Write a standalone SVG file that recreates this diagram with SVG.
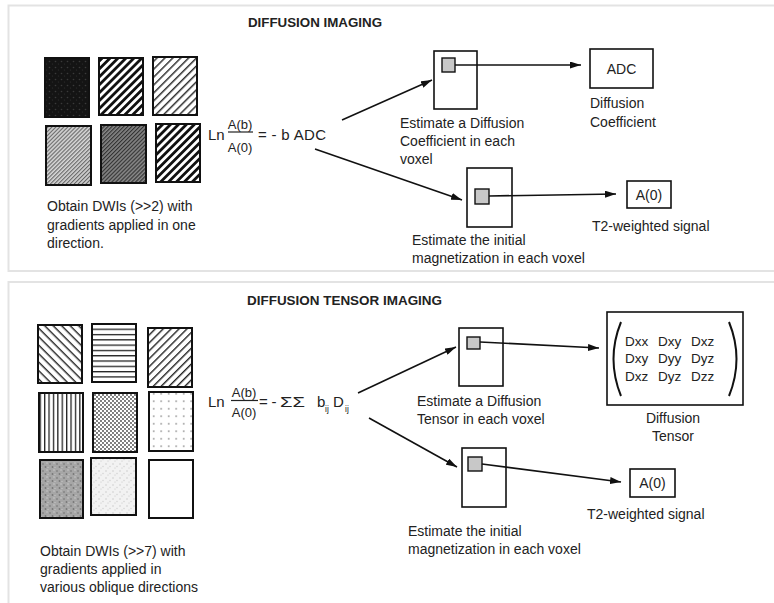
<svg xmlns="http://www.w3.org/2000/svg" width="774" height="603" viewBox="0 0 774 603">
<style>
  text { font-family: "Liberation Sans", Arial, sans-serif; fill: #222; }
  .lbl { font-size: 14px; }
  .eq { font-size: 15px; }
  .frac { font-size: 13px; }
  .ttl { font-size: 13.5px; font-weight: bold; }
  .mx { font-size: 13.5px; }
  .sub { font-size: 8.5px; }
  .panel { fill: #fff; stroke: #e3e3e3; stroke-width: 2; }
  .tile { stroke: #111; stroke-width: 2; }
  .box { fill: #fff; stroke: #111; stroke-width: 1.6; }
  .vox { fill: #c8c8c8; stroke: #111; stroke-width: 1.4; }
  .conn { stroke: #111; stroke-width: 1.6; fill: none; }
  .paren { stroke: #111; stroke-width: 2; fill: none; }
</style>
<defs>
  <marker id="ah" markerUnits="userSpaceOnUse" markerWidth="11" markerHeight="7" refX="11" refY="3.5" orient="auto">
    <path d="M0,0 L11,3.5 L0,7 z" fill="#111"/>
  </marker>
  <pattern id="pDark" patternUnits="userSpaceOnUse" width="6" height="6">
    <rect width="6" height="6" fill="#141414"/>
    <circle cx="1.5" cy="1.5" r="0.8" fill="#3a3a3a"/>
    <circle cx="4.5" cy="4" r="0.6" fill="#2e2e2e"/>
  </pattern>
  <pattern id="pThick" patternUnits="userSpaceOnUse" width="8" height="5.6" patternTransform="rotate(-45)">
    <rect width="8" height="5.6" fill="#fff"/>
    <rect width="8" height="2.8" fill="#111"/>
  </pattern>
  <pattern id="pThin" patternUnits="userSpaceOnUse" width="8" height="5.6" patternTransform="rotate(-45)">
    <rect width="8" height="5.6" fill="#fff"/>
    <rect width="8" height="1.5" fill="#333"/>
  </pattern>
  <pattern id="pFineLight" patternUnits="userSpaceOnUse" width="6" height="2.8" patternTransform="rotate(-45)">
    <rect width="6" height="2.8" fill="#d4d4d4"/>
    <rect width="6" height="1.1" fill="#666"/>
  </pattern>
  <pattern id="pFineDark" patternUnits="userSpaceOnUse" width="6" height="2.8" patternTransform="rotate(-45)">
    <rect width="6" height="2.8" fill="#8a8a8a"/>
    <rect width="6" height="1.2" fill="#333"/>
  </pattern>
  <pattern id="qBack" patternUnits="userSpaceOnUse" width="8" height="6" patternTransform="rotate(45)">
    <rect width="8" height="6" fill="#fff"/>
    <rect width="8" height="1.4" fill="#222"/>
  </pattern>
  <pattern id="qHoriz" patternUnits="userSpaceOnUse" width="8" height="5.3">
    <rect width="8" height="5.3" fill="#fff"/>
    <rect width="8" height="1.3" fill="#222"/>
  </pattern>
  <pattern id="qFwd" patternUnits="userSpaceOnUse" width="8" height="5.6" patternTransform="rotate(-45)">
    <rect width="8" height="5.6" fill="#fff"/>
    <rect width="8" height="1.4" fill="#222"/>
  </pattern>
  <pattern id="qVert" patternUnits="userSpaceOnUse" width="4.4" height="8">
    <rect width="4.4" height="8" fill="#fff"/>
    <rect width="1.3" height="8" fill="#222"/>
  </pattern>
  <pattern id="qDots" patternUnits="userSpaceOnUse" width="4" height="4">
    <rect width="4" height="4" fill="#fff"/>
    <circle cx="1" cy="1" r="0.9" fill="#444"/>
    <circle cx="3" cy="3" r="0.9" fill="#444"/>
  </pattern>
  <pattern id="qSparse" patternUnits="userSpaceOnUse" width="7.5" height="7.5">
    <rect width="7.5" height="7.5" fill="#fff"/>
    <circle cx="3.7" cy="3.7" r="0.9" fill="#999"/>
  </pattern>
  <pattern id="qSpeckDark" patternUnits="userSpaceOnUse" width="7" height="7">
    <rect width="7" height="7" fill="#a6a6a6"/>
    <circle cx="1" cy="2" r="0.8" fill="#6e6e6e"/>
    <circle cx="5" cy="1" r="0.7" fill="#d0d0d0"/>
    <circle cx="3.5" cy="5" r="0.9" fill="#777"/>
    <circle cx="6" cy="5.5" r="0.6" fill="#ccc"/>
  </pattern>
  <pattern id="qSpeckLight" patternUnits="userSpaceOnUse" width="7" height="7">
    <rect width="7" height="7" fill="#f2f2f2"/>
    <circle cx="1" cy="2" r="0.7" fill="#c4c4c4"/>
    <circle cx="5" cy="4.5" r="0.7" fill="#cfcfcf"/>
    <circle cx="3" cy="6" r="0.5" fill="#bbb"/>
  </pattern>
</defs>

<rect width="774" height="603" fill="#fff"/>

<!-- Panels -->
<g id="panel-top">
  <rect class="panel" x="8.5" y="5.5" width="780" height="265.5"/>
  <text class="ttl" x="248" y="27" textLength="134" lengthAdjust="spacingAndGlyphs">DIFFUSION IMAGING</text>
</g>
<g id="panel-bottom">
  <rect class="panel" x="8.5" y="282" width="780" height="340"/>
  <text class="ttl" x="247" y="305" textLength="195" lengthAdjust="spacingAndGlyphs">DIFFUSION TENSOR IMAGING</text>
</g>

<!-- ===== TOP: DIFFUSION IMAGING ===== -->
<g id="dwi-set-top">
  <rect class="tile" x="45" y="58" width="44" height="59" fill="url(#pDark)"/>
  <rect class="tile" x="99" y="58" width="44" height="57" fill="url(#pThick)"/>
  <rect class="tile" x="153" y="57" width="44" height="58" fill="url(#pThin)"/>
  <rect class="tile" x="46" y="126" width="45" height="59" fill="url(#pFineLight)"/>
  <rect class="tile" x="101" y="125" width="45" height="58" fill="url(#pFineDark)"/>
  <rect class="tile" x="156" y="124" width="44" height="58" fill="url(#pThick)"/>
  <text class="lbl" x="47" y="211">Obtain DWIs (&gt;&gt;2) with</text>
  <text class="lbl" x="47" y="229.5">gradients applied in one</text>
  <text class="lbl" x="47" y="248">direction.</text>
</g>

<g id="equation-top">
  <text class="eq" x="208" y="140">Ln</text>
  <text class="frac" x="240" y="129" text-anchor="middle">A(b)</text>
  <line x1="228" y1="132" x2="253" y2="132" stroke="#222" stroke-width="1.2"/>
  <text class="frac" x="240" y="152" text-anchor="middle">A(0)</text>
  <text class="eq" x="258" y="140" textLength="68" lengthAdjust="spacing">= - b ADC</text>
</g>

<g id="voxel-adc-top">
  <rect class="box" x="434" y="51" width="43" height="58"/>
  <rect class="vox" x="442" y="58" width="13" height="14"/>
  <text class="lbl" x="400" y="128">Estimate a Diffusion</text>
  <text class="lbl" x="400" y="146">Coefficient in each</text>
  <text class="lbl" x="400" y="164">voxel</text>
</g>

<g id="voxel-a0-top">
  <rect class="box" x="467" y="168" width="45" height="59"/>
  <rect class="vox" x="475" y="189" width="14" height="15"/>
  <text class="lbl" x="412" y="245">Estimate the initial</text>
  <text class="lbl" x="412" y="263">magnetization in each voxel</text>
</g>

<g id="adc-out">
  <rect class="box" x="590" y="49" width="63" height="39"/>
  <text class="lbl" x="621.5" y="74" text-anchor="middle">ADC</text>
  <text class="lbl" x="590" y="108">Diffusion</text>
  <text class="lbl" x="590" y="127">Coefficient</text>
</g>

<g id="a0-out-top">
  <rect class="box" x="627" y="181" width="44" height="27"/>
  <text class="lbl" x="649" y="199.5" text-anchor="middle">A(0)</text>
  <text class="lbl" x="592" y="231">T2-weighted signal</text>
</g>

<!-- ===== BOTTOM: DIFFUSION TENSOR IMAGING ===== -->
<g id="dwi-set-bottom">
  <rect class="tile" x="38" y="325" width="44" height="58" fill="url(#qBack)"/>
  <rect class="tile" x="92" y="324" width="44" height="58" fill="url(#qHoriz)"/>
  <rect class="tile" x="148" y="328" width="44" height="59" fill="url(#qFwd)"/>
  <rect class="tile" x="39" y="393" width="44" height="59" fill="url(#qVert)"/>
  <rect class="tile" x="93" y="393" width="44" height="59" fill="url(#qDots)"/>
  <rect class="tile" x="149" y="392" width="44" height="59" fill="url(#qSparse)"/>
  <rect class="tile" x="40" y="460" width="43" height="58" fill="url(#qSpeckDark)"/>
  <rect class="tile" x="91" y="458" width="45" height="57" fill="url(#qSpeckLight)"/>
  <rect class="tile" x="149" y="460" width="44" height="58" fill="#fff"/>
  <text class="lbl" x="40" y="556">Obtain DWIs (&gt;&gt;7) with</text>
  <text class="lbl" x="40" y="574">gradients applied in</text>
  <text class="lbl" x="40" y="592">various oblique directions</text>
</g>

<g id="equation-bottom">
  <text class="eq" x="208" y="407">Ln</text>
  <text class="frac" x="244" y="397" text-anchor="middle">A(b)</text>
  <line x1="231" y1="400.5" x2="258" y2="400.5" stroke="#222" stroke-width="1.2"/>
  <text class="frac" x="244" y="417" text-anchor="middle">A(0)</text>
  <text class="eq" x="259" y="407">=</text>
  <text class="eq" x="271.5" y="407">-</text>
  <text class="eq" x="280" y="407" textLength="25" lengthAdjust="spacingAndGlyphs">ΣΣ</text>
  <text class="eq" x="317" y="407">b</text>
  <text class="sub" x="325" y="412">ij</text>
  <text class="eq" x="333" y="407">D</text>
  <text class="sub" x="345" y="412">ij</text>
</g>

<g id="voxel-tensor-bottom">
  <rect class="box" x="459" y="328" width="44" height="58"/>
  <rect class="vox" x="467" y="337" width="13" height="12"/>
  <text class="lbl" x="417" y="406">Estimate a Diffusion</text>
  <text class="lbl" x="417" y="424">Tensor in each voxel</text>
</g>

<g id="voxel-a0-bottom">
  <rect class="box" x="462" y="448" width="44" height="59"/>
  <rect class="vox" x="468" y="457" width="14" height="14"/>
  <text class="lbl" x="408" y="536">Estimate the initial</text>
  <text class="lbl" x="408" y="554">magnetization in each voxel</text>
</g>

<g id="tensor-out">
  <rect class="box" x="607" y="312" width="136" height="93"/>
  <path class="paren" d="M621,322 Q606,359 621,396"/>
  <path class="paren" d="M729,322 Q744,359 729,396"/>
  <text class="mx" x="625" y="346">Dxx</text>
  <text class="mx" x="658" y="346">Dxy</text>
  <text class="mx" x="691" y="346">Dxz</text>
  <text class="mx" x="625" y="363">Dxy</text>
  <text class="mx" x="658" y="363">Dyy</text>
  <text class="mx" x="691" y="363">Dyz</text>
  <text class="mx" x="625" y="381">Dxz</text>
  <text class="mx" x="658" y="381">Dyz</text>
  <text class="mx" x="691" y="381">Dzz</text>
  <text class="lbl" x="673" y="423" text-anchor="middle">Diffusion</text>
  <text class="lbl" x="673" y="441" text-anchor="middle">Tensor</text>
</g>

<g id="a0-out-bottom">
  <rect class="box" x="630" y="469" width="45" height="28"/>
  <text class="lbl" x="652.5" y="488" text-anchor="middle">A(0)</text>
  <text class="lbl" x="587" y="519">T2-weighted signal</text>
</g>

<!-- Connectors -->
<g id="connectors">
  <line class="conn" x1="342" y1="120" x2="432" y2="80" marker-end="url(#ah)"/>
  <line class="conn" x1="315" y1="149" x2="462" y2="200" marker-end="url(#ah)"/>
  <line class="conn" x1="455" y1="65" x2="581" y2="65" marker-end="url(#ah)"/>
  <line class="conn" x1="489" y1="196" x2="616" y2="194" marker-end="url(#ah)"/>
  <line class="conn" x1="358" y1="393" x2="456" y2="347" marker-end="url(#ah)"/>
  <line class="conn" x1="369" y1="418" x2="457" y2="467" marker-end="url(#ah)"/>
  <line class="conn" x1="480" y1="342" x2="599" y2="348" marker-end="url(#ah)"/>
  <line class="conn" x1="482" y1="464" x2="621" y2="482" marker-end="url(#ah)"/>
</g>
</svg>
